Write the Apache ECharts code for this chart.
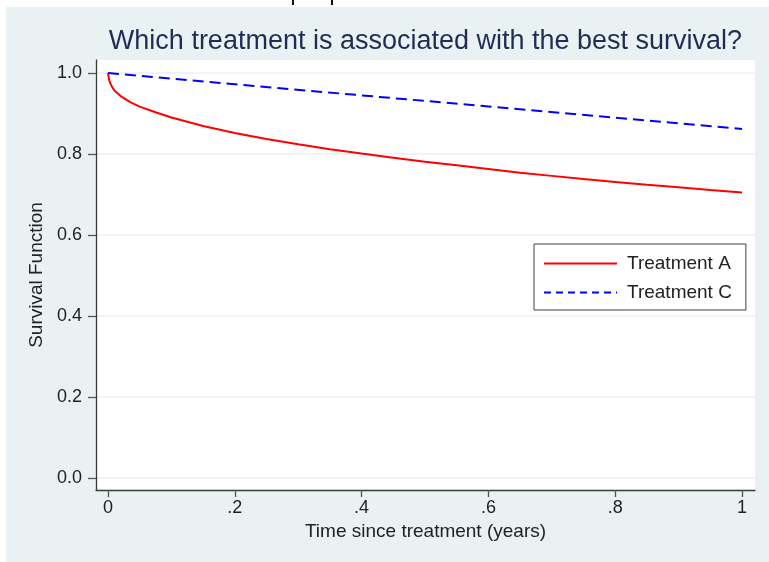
<!DOCTYPE html>
<html>
<head>
<meta charset="utf-8">
<script src="https://cdn.jsdelivr.net/npm/echarts@6/dist/echarts.min.js"></script>
<style>
  html, body { margin: 0; padding: 0; background: #ffffff; }
  #chart { width: 769px; height: 562px; }
</style>
</head>
<body>
<div id="chart"></div>
<script>
// Survival curves: time (years) vs estimated survival probability
var timeA = [0, 0.002, 0.005, 0.01, 0.02, 0.035, 0.05, 0.075, 0.1, 0.15, 0.2, 0.25, 0.3, 0.35, 0.4,
             0.45, 0.5, 0.55, 0.6, 0.65, 0.7, 0.75, 0.8, 0.85, 0.9, 0.95, 1.0];
var survA = [1.000, 0.982, 0.970, 0.957, 0.943, 0.928, 0.917, 0.903, 0.890, 0.869, 0.852, 0.837, 0.824, 0.812, 0.801,
             0.791, 0.781, 0.772, 0.763, 0.754, 0.746, 0.738, 0.731, 0.724, 0.718, 0.711, 0.705];
var timeC = [0, 1.0];
var survC = [1.000, 0.862];

var seriesNames = ['Treatment A', 'Treatment C'];
var xTickValues = [0, 0.2, 0.4, 0.6, 0.8, 1.0];
var xTickLabels = ['0', '.2', '.4', '.6', '.8', '1'];
var yTickValues = [0, 0.2, 0.4, 0.6, 0.8, 1.0];
var yTickLabels = ['0.0', '0.2', '0.4', '0.6', '0.8', '1.0'];

function pairs(xs, ys) {
  return xs.map(function (x, i) { return [x, ys[i]]; });
}
function labelFor(values, labels) {
  return function (v) {
    for (var i = 0; i < values.length; i++) {
      if (Math.abs(values[i] - v) < 1e-9) return labels[i];
    }
    return '';
  };
}

var FONT = '"Liberation Sans", Arial, Helvetica, sans-serif';
var BG = '#eaf1f3';

var chart = echarts.init(document.getElementById('chart'), null, { renderer: 'canvas' });

chart.setOption({
  backgroundColor: '#ffffff',
  animation: false,
  graphic: [
    {
      type: 'rect', z: -10, silent: true,
      shape: { x: 6, y: 7, width: 763, height: 555 },
      style: { fill: BG }
    },
    {
      type: 'rect', z: -9, silent: true,
      shape: { x: 96, y: 60, width: 659, height: 430 },
      style: { fill: '#ffffff' }
    },
    {
      type: 'line', silent: true,
      shape: { x1: 293, y1: 0, x2: 293, y2: 5 },
      style: { stroke: '#111111', lineWidth: 2 }
    },
    {
      type: 'line', silent: true,
      shape: { x1: 332, y1: 0, x2: 332, y2: 5 },
      style: { stroke: '#111111', lineWidth: 2 }
    }
  ],
  title: {
    text: 'Which treatment is associated with the best survival?',
    left: 425.5,
    textAlign: 'center',
    top: 28,
    padding: 0,
    textStyle: { fontFamily: FONT, fontSize: 27, fontWeight: 'normal', color: '#1f2d55' }
  },
  legend: {
    orient: 'vertical',
    left: 534,
    top: 244,
    padding: [10, 14, 8, 9],
    itemWidth: 73,
    itemHeight: 18,
    itemGap: 10,
    backgroundColor: '#ffffff',
    borderColor: '#404040',
    borderWidth: 1,
    borderRadius: 0,
    textStyle: { fontFamily: FONT, fontSize: 19, color: '#222222', padding: [0, 0, 0, 5] },
    data: [
      {
        name: seriesNames[0],
        itemStyle: { opacity: 0 },
        lineStyle: { color: '#ff0000', width: 2, type: 'solid' }
      },
      {
        name: seriesNames[1],
        itemStyle: { opacity: 0 },
        lineStyle: { color: '#0000ff', width: 2, type: [7, 5] }
      }
    ]
  },
  grid: { left: 96, top: 60, width: 659, height: 430, containLabel: false },
  xAxis: {
    type: 'value',
    min: -0.0189,
    max: 1.0205,
    name: 'Time since treatment (years)',
    nameLocation: 'middle',
    nameGap: 30,
    nameTextStyle: { fontFamily: FONT, fontSize: 19, color: '#222222' },
    axisLine: { show: true, onZero: false, lineStyle: { color: '#3a3a3a', width: 1.3 } },
    axisTick: { show: true, length: 7, customValues: xTickValues, lineStyle: { color: '#555555', width: 1.3 } },
    axisLabel: {
      customValues: xTickValues,
      margin: 9,
      fontFamily: FONT, fontSize: 18, color: '#222222',
      formatter: labelFor(xTickValues, xTickLabels)
    },
    splitLine: { show: false }
  },
  yAxis: {
    type: 'value',
    min: -0.0296,
    max: 1.0321,
    name: 'Survival Function',
    nameLocation: 'middle',
    nameGap: 50,
    nameTextStyle: { fontFamily: FONT, fontSize: 19, color: '#222222' },
    axisLine: { show: true, onZero: false, lineStyle: { color: '#3a3a3a', width: 1.3 } },
    axisTick: { show: true, length: 8, customValues: yTickValues, lineStyle: { color: '#555555', width: 1.3 } },
    axisLabel: {
      customValues: yTickValues,
      margin: 14,
      fontFamily: FONT, fontSize: 18, color: '#222222',
      formatter: labelFor(yTickValues, yTickLabels)
    },
    splitLine: { show: true, lineStyle: { color: BG, width: 1.5 } }
  },
  series: [
    {
      name: seriesNames[0],
      type: 'line',
      data: pairs(timeA, survA),
      showSymbol: false,
      symbol: 'none',
      smooth: false,
      lineStyle: { color: '#ff0000', width: 2 },
      itemStyle: { color: '#ff0000' },
      z: 3
    },
    {
      name: seriesNames[1],
      type: 'line',
      data: pairs(timeC, survC),
      showSymbol: false,
      symbol: 'none',
      lineStyle: { color: '#0000ff', width: 2, type: [11, 6] },
      itemStyle: { color: '#0000ff' },
      z: 4
    }
  ]
});
</script>
</body>
</html>
